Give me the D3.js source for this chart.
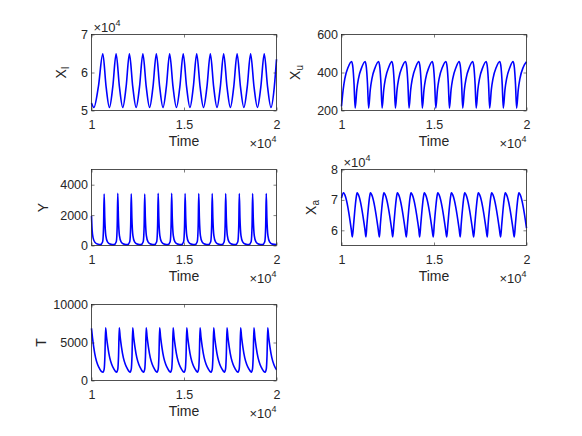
<!DOCTYPE html>
<html>
<head>
<meta charset="utf-8">
<script src="https://cdn.jsdelivr.net/npm/d3@7"></script>
<style>
  body { margin: 0; background: #fff; }
  svg { display: block; font-family: 'Liberation Sans', Arial, sans-serif; }
</style>
</head>
<body>
<svg width="582" height="436"></svg>
<script>
// values, [time, value]
const xiData = [
  [10000, 52000], [10130, 50800], [10370, 56200], [10611, 64900],
  [10790, 56200], [10970, 50800], [11150, 56200], [11330, 64900],
  [11510, 56200], [11690, 50800], [11870, 56200], [12049, 64900],
  [12231, 56200], [12413, 50800], [12595, 56200], [12777, 64900],
  [12959, 56200], [13141, 50800], [13323, 56200], [13505, 64900],
  [13685, 56200], [13865, 50800], [14045, 56200], [14224, 64900],
  [14407, 56200], [14591, 50800], [14775, 56200], [14958, 64900],
  [15140, 56200], [15322, 50800], [15504, 56200], [15686, 64900],
  [15870, 56200], [16055, 50800], [16240, 56200], [16424, 64900],
  [16604, 56200], [16784, 50800], [16963, 56200], [17143, 64900],
  [17325, 56200], [17507, 50800], [17689, 56200], [17871, 64900],
  [18053, 56200], [18236, 50800], [18418, 56200], [18600, 64900],
  [18785, 56200], [18969, 50800], [19153, 56200], [19337, 64900],
  [19518, 56200], [19700, 50800], [19882, 56200], [20000, 63500],
];

const xuData = [
  [10000, 222], [10090, 310], [10180, 368], [10360, 428], [10548, 458], [10618, 425], [10678, 340],
  [10738, 212], [10828, 310], [10918, 368], [11098, 428], [11276, 458], [11346, 425], [11406, 340],
  [11466, 212], [11556, 310], [11646, 368], [11826, 428], [12004, 458], [12074, 425], [12134, 340],
  [12194, 212], [12284, 310], [12374, 368], [12554, 428], [12723, 458], [12793, 425], [12853, 340],
  [12913, 212], [13003, 310], [13093, 368], [13273, 428], [13460, 458], [13530, 425], [13590, 340],
  [13650, 212], [13740, 310], [13830, 368], [14010, 428], [14179, 458], [14249, 425], [14309, 340],
  [14369, 212], [14459, 310], [14549, 368], [14729, 428], [14907, 458], [14977, 425], [15037, 340],
  [15097, 212], [15187, 310], [15277, 368], [15457, 428], [15644, 458], [15714, 425], [15774, 340],
  [15834, 212], [15924, 310], [16014, 368], [16194, 428], [16363, 458], [16433, 425], [16493, 340],
  [16553, 212], [16643, 310], [16733, 368], [16913, 428], [17091, 458], [17161, 425], [17221, 340],
  [17281, 212], [17371, 310], [17461, 368], [17641, 428], [17819, 458], [17889, 425], [17949, 340],
  [18009, 212], [18099, 310], [18189, 368], [18369, 428], [18556, 458], [18626, 425], [18686, 340],
  [18746, 212], [18836, 310], [18926, 368], [19106, 428], [19275, 458], [19345, 425], [19405, 340],
  [19465, 212], [19555, 310], [19645, 368], [19825, 428], [20000, 456],
];

const yData = [
  [10000, 1950], [10035, 1000], [10090, 480], [10180, 220], [10320, 95],
  [10483, 55], [10603, 250], [10653, 1300], [10683, 3380], [10718, 1800], [10773, 650], [10863, 240], [11013, 90],
  [11220, 55], [11340, 250], [11390, 1300], [11420, 3440], [11455, 1800], [11510, 650], [11600, 240], [11750, 90],
  [11948, 55], [12068, 250], [12118, 1300], [12148, 3400], [12183, 1800], [12238, 650], [12328, 240], [12478, 90],
  [12676, 55], [12796, 250], [12846, 1300], [12876, 3390], [12911, 1800], [12966, 650], [13056, 240], [13206, 90],
  [13404, 55], [13524, 250], [13574, 1300], [13604, 3430], [13639, 1800], [13694, 650], [13784, 240], [13934, 90],
  [14132, 55], [14252, 250], [14302, 1300], [14332, 3430], [14367, 1800], [14422, 650], [14512, 240], [14662, 90],
  [14860, 55], [14980, 250], [15030, 1300], [15060, 3420], [15095, 1800], [15150, 650], [15240, 240], [15390, 90],
  [15597, 55], [15717, 250], [15767, 1300], [15797, 3420], [15832, 1800], [15887, 650], [15977, 240], [16127, 90],
  [16325, 55], [16445, 250], [16495, 1300], [16525, 3420], [16560, 1800], [16615, 650], [16705, 240], [16855, 90],
  [17053, 55], [17173, 250], [17223, 1300], [17253, 3420], [17288, 1800], [17343, 650], [17433, 240], [17583, 90],
  [17790, 55], [17910, 250], [17960, 1300], [17990, 3420], [18025, 1800], [18080, 650], [18170, 240], [18320, 90],
  [18509, 55], [18629, 250], [18679, 1300], [18709, 3420], [18744, 1800], [18799, 650], [18889, 240], [19039, 90],
  [19246, 55], [19366, 250], [19416, 1300], [19446, 3410], [19481, 1800], [19536, 650], [19626, 240], [19776, 90],
  [20000, 55],
];

const xaData = [
  [10000, 70600], [10108, 72300], [10218, 71000], [10338, 67800], [10458, 63300], [10528, 60300],
  [10584, 57800], [10655, 62000], [10735, 67500], [10795, 70800], [10845, 72300], [10955, 71000], [11075, 67800], [11195, 63300], [11265, 60300],
  [11321, 57800], [11374, 62000], [11454, 67500], [11514, 70800], [11564, 72300], [11674, 71000], [11794, 67800], [11914, 63300], [11984, 60300],
  [12049, 57800], [12102, 62000], [12182, 67500], [12242, 70800], [12292, 72300], [12402, 71000], [12522, 67800], [12642, 63300], [12712, 60300],
  [12768, 57800], [12830, 62000], [12910, 67500], [12970, 70800], [13020, 72300], [13130, 71000], [13250, 67800], [13370, 63300], [13440, 60300],
  [13505, 57800], [13567, 62000], [13647, 67500], [13707, 70800], [13757, 72300], [13867, 71000], [13987, 67800], [14107, 63300], [14177, 60300],
  [14224, 57800], [14286, 62000], [14366, 67500], [14426, 70800], [14476, 72300], [14586, 71000], [14706, 67800], [14826, 63300], [14896, 60300],
  [14961, 57800], [15014, 62000], [15094, 67500], [15154, 70800], [15204, 72300], [15314, 71000], [15434, 67800], [15554, 63300], [15624, 60300],
  [15689, 57800], [15751, 62000], [15831, 67500], [15891, 70800], [15941, 72300], [16051, 71000], [16171, 67800], [16291, 63300], [16361, 60300],
  [16417, 57800], [16470, 62000], [16550, 67500], [16610, 70800], [16660, 72300], [16770, 71000], [16890, 67800], [17010, 63300], [17080, 60300],
  [17145, 57800], [17207, 62000], [17287, 67500], [17347, 70800], [17397, 72300], [17507, 71000], [17627, 67800], [17747, 63300], [17817, 60300],
  [17882, 57800], [17926, 62000], [18006, 67500], [18066, 70800], [18116, 72300], [18226, 71000], [18346, 67800], [18466, 63300], [18536, 60300],
  [18601, 57800], [18663, 62000], [18743, 67500], [18803, 70800], [18853, 72300], [18963, 71000], [19083, 67800], [19203, 63300], [19273, 60300],
  [19338, 57800], [19400, 62000], [19480, 67500], [19540, 70800], [19590, 72300], [19700, 71000], [19820, 67800], [19940, 63300], [20000, 60700],
];

const tData = [
  [10000, 6850], [10050, 5700], [10120, 4400], [10220, 3000], [10330, 2100], [10450, 1500], [10530, 1200],
  [10624, 1100], [10684, 1500], [10724, 3200], [10764, 6950], [10814, 5700], [10884, 4400], [10984, 3000], [11094, 2100], [11214, 1500], [11294, 1200],
  [11361, 1100], [11421, 1500], [11461, 3200], [11501, 6950], [11551, 5700], [11621, 4400], [11721, 3000], [11831, 2100], [11951, 1500], [12031, 1200],
  [12089, 1100], [12149, 1500], [12189, 3200], [12229, 6950], [12279, 5700], [12349, 4400], [12449, 3000], [12559, 2100], [12679, 1500], [12759, 1200],
  [12817, 1100], [12877, 1500], [12917, 3200], [12957, 6950], [13007, 5700], [13077, 4400], [13177, 3000], [13287, 2100], [13407, 1500], [13487, 1200],
  [13545, 1100], [13605, 1500], [13645, 3200], [13685, 6950], [13735, 5700], [13805, 4400], [13905, 3000], [14015, 2100], [14135, 1500], [14215, 1200],
  [14273, 1100], [14333, 1500], [14373, 3200], [14413, 6950], [14463, 5700], [14533, 4400], [14633, 3000], [14743, 2100], [14863, 1500], [14943, 1200],
  [15010, 1100], [15070, 1500], [15110, 3200], [15150, 6950], [15200, 5700], [15270, 4400], [15370, 3000], [15480, 2100], [15600, 1500], [15680, 1200],
  [15729, 1100], [15789, 1500], [15829, 3200], [15869, 6950], [15919, 5700], [15989, 4400], [16089, 3000], [16199, 2100], [16319, 1500], [16399, 1200],
  [16466, 1100], [16526, 1500], [16566, 3200], [16606, 6950], [16656, 5700], [16726, 4400], [16826, 3000], [16936, 2100], [17056, 1500], [17136, 1200],
  [17185, 1100], [17245, 1500], [17285, 3200], [17325, 6950], [17375, 5700], [17445, 4400], [17545, 3000], [17655, 2100], [17775, 1500], [17855, 1200],
  [17922, 1100], [17982, 1500], [18022, 3200], [18062, 6950], [18112, 5700], [18182, 4400], [18282, 3000], [18392, 2100], [18512, 1500], [18592, 1200],
  [18641, 1100], [18701, 1500], [18741, 3200], [18781, 6950], [18831, 5700], [18901, 4400], [19001, 3000], [19111, 2100], [19231, 1500], [19311, 1200],
  [19387, 1100], [19447, 1500], [19487, 3200], [19527, 6950], [19577, 5700], [19647, 4400], [19747, 3000], [19857, 2100], [19977, 1500], [20000, 1420],
];

// ticks
const xTickValues = [10000, 15000, 20000];
const xTickLabels = ['1', '1.5', '2'];
const xiTicks = [50000, 60000, 70000];
const xiTickLabels = ['5', '6', '7'];
const xuTicks = [200, 400, 600];
const xuTickLabels = ['200', '400', '600'];
const yTicks = [0, 2000, 4000];
const yTickLabels = ['0', '2000', '4000'];
const xaTicks = [60000, 70000, 80000];
const xaTickLabels = ['6', '7', '8'];
const tTicks = [0, 5000, 10000];
const tTickLabels = ['0', '5000', '10000'];

const panels = [
  { data: xiData, left: 91.5, top: 34.5, domain: [50000, 70000], ticks: xiTicks, tickLabels: xiTickLabels, name: 'X', sub: 'I', labelX: 66, exponent: true },
  { data: xuData, left: 341.5, top: 34.5, domain: [200, 600], ticks: xuTicks, tickLabels: xuTickLabels, name: 'X', sub: 'u', labelX: 300 },
  { data: yData, left: 91.5, top: 169.5, domain: [0, 5000], ticks: yTicks, tickLabels: yTickLabels, name: 'Y', labelX: 48 },
  { data: xaData, left: 341.5, top: 169.5, domain: [55000, 80000], ticks: xaTicks, tickLabels: xaTickLabels, name: 'X', sub: 'a', labelX: 316, exponent: true },
  { data: tData, left: 91.5, top: 304.5, domain: [0, 10000], ticks: tTicks, tickLabels: tTickLabels, name: 'T', labelX: 46 },
];

const width = 185;
const height = 76;
const textColor = '#262626';
const svg = d3.select('svg');

function timesTen(sel) {
  sel.append('tspan').text('\u00d710');
  sel.append('tspan').attr('font-size', 9).attr('dy', -6).text('4');
}

panels.forEach((p) => {
  const g = svg.append('g').attr('transform', `translate(${p.left},${p.top})`);
  const x = d3.scaleLinear().domain([10000, 20000]).range([0, width]);
  const y = d3.scaleLinear().domain(p.domain).range([height, 0]);

  g.append('path')
    .datum(p.data)
    .attr('fill', 'none')
    .attr('stroke', '#0000ff')
    .attr('stroke-width', 1.6)
    .attr('stroke-linejoin', 'round')
    .attr('d', d3.line()
      .x((d) => x(d[0]))
      .y((d) => y(d[1]))
      .curve(d3.curveMonotoneX));

  // axes with inward ticks, mirrored on top/right
  g.append('g')
    .attr('transform', `translate(0,${height})`)
    .call(d3.axisBottom(x).tickValues(xTickValues)
      .tickFormat((d, i) => xTickLabels[i])
      .tickSizeInner(-3).tickSizeOuter(0).tickPadding(10));
  g.append('g')
    .call(d3.axisTop(x).tickValues(xTickValues).tickFormat('')
      .tickSizeInner(-3).tickSizeOuter(0));
  g.append('g')
    .call(d3.axisLeft(y).tickValues(p.ticks)
      .tickFormat((d, i) => p.tickLabels[i])
      .tickSizeInner(-3).tickSizeOuter(0).tickPadding(3.5));
  g.append('g')
    .attr('transform', `translate(${width},0)`)
    .call(d3.axisRight(y).tickValues(p.ticks).tickFormat('')
      .tickSizeInner(-3).tickSizeOuter(0));

  g.selectAll('.domain').remove();
  g.selectAll('.tick line').attr('stroke', textColor).attr('stroke-width', 0.6);
  g.selectAll('.tick text')
    .attr('fill', textColor)
    .attr('font-size', 12.5)
    .attr('font-family', null);

  g.append('rect')
    .attr('width', width)
    .attr('height', height)
    .attr('fill', 'none')
    .attr('stroke', textColor)
    .attr('stroke-width', 0.8);

  // x label and exponent
  g.append('text')
    .attr('x', width / 2)
    .attr('y', height + 35.5)
    .attr('text-anchor', 'middle')
    .attr('font-size', 14)
    .attr('fill', textColor)
    .text('Time');
  g.append('text')
    .attr('x', width)
    .attr('y', height + 37)
    .attr('text-anchor', 'end')
    .attr('font-size', 13)
    .attr('fill', textColor)
    .call(timesTen);

  if (p.exponent) {
    g.append('text')
      .attr('x', 2)
      .attr('y', -3)
      .attr('font-size', 13)
      .attr('fill', textColor)
      .call(timesTen);
  }

  // y label, rotated
  const label = svg.append('text')
    .attr('transform', `translate(${p.labelX},${p.top + height / 2}) rotate(-90)`)
    .attr('text-anchor', 'middle')
    .attr('font-size', 14)
    .attr('fill', textColor);
  label.append('tspan').text(p.name);
  if (p.sub) {
    label.append('tspan').attr('font-size', 10).attr('dy', 3).text(p.sub);
  }
});
</script>
</body>
</html>
